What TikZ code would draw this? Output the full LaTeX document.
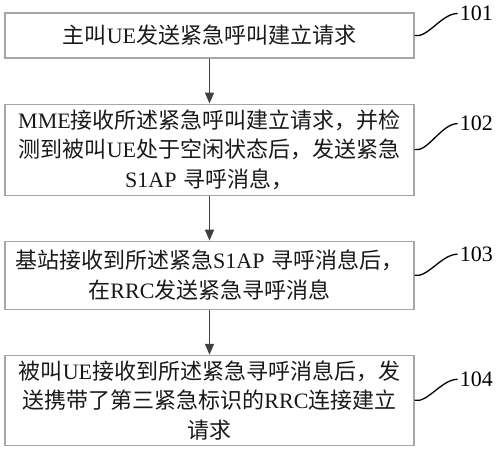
\documentclass[tikz,border=0pt]{standalone}
\usepackage{fontspec}
\setmainfont{Liberation Serif}
\newfontfamily\cjk{Noto Sans CJK SC}
\newcommand{\zhs}[1]{{\cjk #1}}
\usepackage{tikz}
\usetikzlibrary{arrows.meta, positioning}

\begin{document}
\begin{tikzpicture}[x=1pt, y=1pt, node distance=45pt,
    buoc/.style={draw=black!35, line width=1.1pt, minimum width=409pt,
        text width=400pt, align=center, inner sep=0pt, text=black!90,
        font=\fontsize{22pt}{29.5pt}\selectfont},
    muiten/.style={-{Triangle[width=9pt, length=11pt]}, line width=1.4pt, draw=black!75, fill=black!75},
    nhan/.style={anchor=west, inner sep=2pt, font=\fontsize{22pt}{26pt}\selectfont},
    xoan/.style={line width=1.3pt}]
    \useasboundingbox (0,0) rectangle (503,-450);

    % 1. Các bước của lưu đồ
    \node[buoc, minimum height=45pt] (b1) at (209.5,-35.5)
        {\zhs{主叫}UE\zhs{发送紧急呼叫建立请求}};
    \node[buoc, minimum height=91pt, below=of b1] (b2)
        {MME\zhs{接收所述紧急呼叫建立请求，并检}\\
         \zhs{测到被叫}UE\zhs{处于空闲状态后，发送紧急}\\
         S1AP \zhs{寻呼消息，}};
    \node[buoc, minimum height=68pt, below=of b2] (b3)
        {\zhs{基站接收到所述紧急}S1AP \zhs{寻呼消息后，}\\
         \zhs{在}RRC\zhs{发送紧急寻呼消息}};
    \node[buoc, minimum height=90pt, below=of b3] (b4)
        {\zhs{被叫}UE\zhs{接收到所述紧急寻呼消息后，发}\\
         \zhs{送携带了第三紧急标识的}RRC\zhs{连接建立}\\
         \zhs{请求}};

    % 2. Mũi tên nối các bước
    \draw[muiten] (b1) -- (b2);
    \draw[muiten] (b2) -- (b3);
    \draw[muiten] (b3) -- (b4);

    % 3. Số hiệu bước và đường uốn
    \foreach \i/\s in {1/22, 2/26, 3/21, 4/21} {
        \node[nhan] (n\i) at ([xshift=43pt, yshift=\s pt]b\i.east) {10\i};
        \draw[xoan] (b\i.east) .. controls +(13,-3) and +(-16,0) .. (n\i.west);
    }
\end{tikzpicture}
\end{document}
